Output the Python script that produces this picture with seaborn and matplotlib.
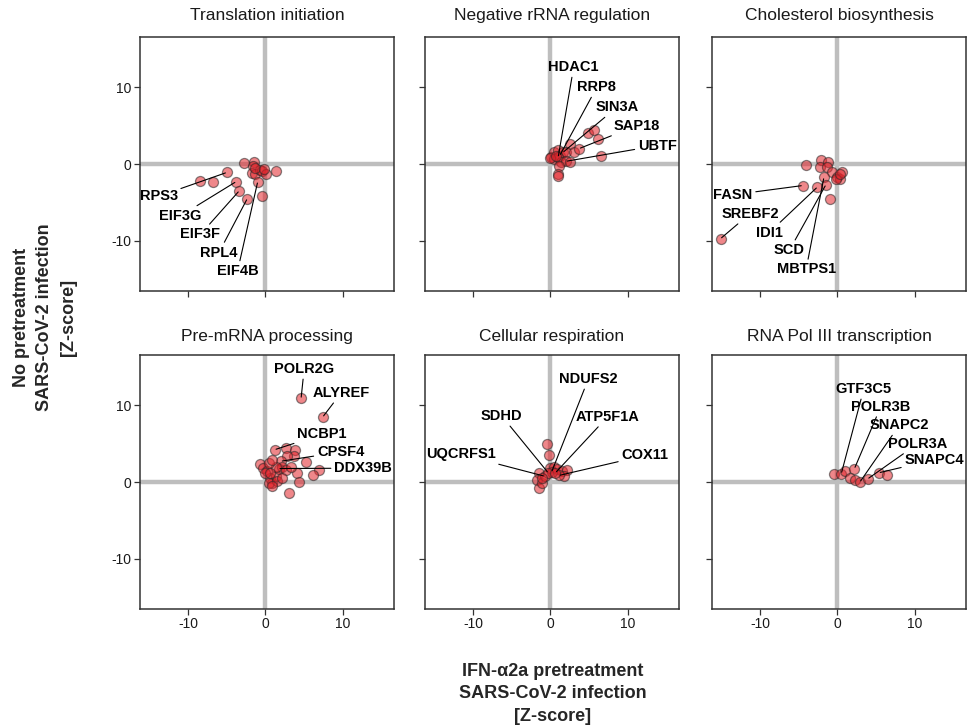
import numpy as np
import pandas as pd
import matplotlib
matplotlib.use("Agg")
import matplotlib.pyplot as plt
import seaborn as sns

sns.set_theme(style="white")
plt.rcParams["font.family"] = ["Liberation Sans", "DejaVu Sans"]
plt.rcParams["axes.unicode_minus"] = False

# ---------------- data ----------------
titles = ["Translation initiation", "Negative rRNA regulation", "Cholesterol biosynthesis",
          "Pre-mRNA processing", "Cellular respiration", "RNA Pol III transcription"]

# Translation initiation
x_trans = [-2.8, -1.5, -1.6, -1.8, -1.4, -0.7, -0.4, 0.1, 1.3, -1.0, -0.4, -5.0, -8.4, -6.75, -3.8, -3.4, -2.35, -1.3, -0.2]
y_trans = [0.1, 0.2, -0.2, -1.2, -1.3, -0.8, -0.9, -1.3, -0.9, -2.3, -4.1, -1.1, -2.2, -2.4, -2.3, -3.5, -4.5, -0.5, -0.6]
g_trans = ["", "", "", "", "", "", "", "", "", "EIF4B", "", "RPS3", "", "", "EIF3G", "EIF3F", "RPL4", "", ""]

# Negative rRNA regulation
x_rrna = [0.1, 0.5, 1.0, 1.2, 1.6, 2.5, 2.0, 3.1, 3.7, 4.8, 5.6, 6.1, 6.5, 0.5, 1.0, 1.4, 2.0, 2.5, 1.1, 1.0, 1.0, -0.1, 0.7]
y_rrna = [0.9, 1.5, 1.8, 1.1, 1.5, 2.6, 1.5, 1.5, 2.0, 4.0, 4.4, 3.2, 1.0, 0.65, 0.9, 0.2, 0.35, 0.2, -0.2, -1.3, -1.5, 0.8, 1.1]
g_rrna = ["", "", "", "RRP8", "SIN3A", "", "", "", "SAP18", "", "", "", "", "", "HDAC1", "", "UBTF", "", "", "", "", "", ""]

# Cholesterol biosynthesis
x_chol = [-4.1, -2.1, -1.2, -2.3, -1.3, -0.65, 0.0, 0.35, 0.6, -0.2, 0.35, -1.75, -1.5, -2.6, -4.5, -0.9, -15.1]
y_chol = [-0.1, 0.5, 0.2, -0.35, -0.45, -1.1, -1.75, -1.95, -1.0, -1.95, -1.3, -1.75, -2.7, -3.0, -2.8, -4.6, -9.7]
g_chol = ["", "", "", "", "", "", "", "", "", "", "", "MBTPS1", "SCD", "IDI1", "FASN", "", "SREBF2"]

# Pre-mRNA processing
x_mrna = [4.6, 7.4, 1.2, 2.6, 3.8, 3.7, 2.8, 2.0, 5.2, 6.9, 6.2, 4.1, 4.3, 3.0, -0.65, -0.35, 0.2, 0.65,
          0.9, 1.3, 1.7, 2.2, 1.3, 0.45, 0.9, 2.6, 3.3, 0.0, 0.65, 0.45, 1.5, 0.8, 2.2]
y_mrna = [10.85, 8.45, 4.2, 4.4, 4.2, 3.35, 3.35, 2.7, 2.6, 1.6, 0.95, 1.2, 0.0, -1.45, 2.3, 1.8, 1.4, 0.5,
          -0.15, 0.75, 1.75, 2.0, 2.0, 2.5, 2.9, 1.6, 2.0, 1.2, 1.2, -0.15, 0.1, -0.55, 0.5]
g_mrna = ["POLR2G", "ALYREF", "NCBP1", "", "", "", "", "CPSF4", "", "", "", "", "", "", "", "", "", "",
          "", "", "DDX39B", "", "", "", "", "", "", "", "", "", "", "", ""]

# Cellular respiration
x_resp = [-0.45, -0.2, -1.5, -1.75, -1.45, -1.1, -0.75, 0.0, 0.45, 0.9, 1.45, 2.2, 1.7, 1.1, 0.15, -0.3, 0.65, -1.1]
y_resp = [4.95, 3.45, 1.2, 0.3, -0.8, -0.1, 0.75, 1.8, 2.0, 1.7, 1.4, 1.6, 0.75, 0.85, 1.3, 1.2, 1.2, 0.5]
g_resp = ["", "", "", "", "", "", "UQCRFS1", "", "", "", "", "", "", "COX11", "NDUFS2", "SDHD", "ATP5F1A", ""]

# RNA Pol III transcription
x_pol3 = [-0.45, 0.5, 1.0, 2.2, 1.65, 2.3, 2.9, 3.9, 5.35, 6.35]
y_pol3 = [1.1, 1.1, 1.4, 1.75, 0.5, 0.3, 0.0, 0.4, 1.2, 0.95]
g_pol3 = ["", "GTF3C5", "", "POLR3B", "", "", "SNAPC2", "POLR3A", "SNAPC4", ""]

# label placements (data units) -- layout only
label_pos = {
    "RPS3": (-13.8, -4.2), "EIF3G": (-11.0, -6.75), "EIF3F": (-8.4, -9.15), "RPL4": (-6.0, -11.5), "EIF4B": (-3.6, -13.9),
    "HDAC1": (3.0, 12.6), "RRP8": (6.0, 10.0), "SIN3A": (8.6, 7.4), "SAP18": (11.2, 5.0), "UBTF": (13.8, 2.4),
    "FASN": (-13.5, -4.0), "SREBF2": (-11.3, -6.45), "IDI1": (-8.8, -8.9), "SCD": (-6.2, -11.2), "MBTPS1": (-4.05, -13.7),
    "POLR2G": (5.0, 14.7), "ALYREF": (9.8, 11.6), "NCBP1": (7.3, 6.2), "CPSF4": (9.7, 3.9), "DDX39B": (12.6, 1.8),
    "NDUFS2": (4.9, 13.4), "SDHD": (-6.3, 8.6), "ATP5F1A": (7.4, 8.5), "UQCRFS1": (-11.6, 3.6), "COX11": (12.2, 3.45),
    "GTF3C5": (3.4, 12.1), "POLR3B": (5.6, 9.8), "SNAPC2": (8.0, 7.4), "POLR3A": (10.4, 5.0), "SNAPC4": (12.5, 2.9),
}

panels = [(x_trans, y_trans, g_trans), (x_rrna, y_rrna, g_rrna), (x_chol, y_chol, g_chol),
          (x_mrna, y_mrna, g_mrna), (x_resp, y_resp, g_resp), (x_pol3, y_pol3, g_pol3)]

frames = []
for t, (xs, ys, gs) in zip(titles, panels):
    frames.append(pd.DataFrame({"x": xs, "y": ys, "gene": gs, "panel": t}))
df = pd.concat(frames, ignore_index=True)

# ---------------- figure ----------------
W, H = 977, 726
fig = plt.figure(figsize=(W / 100, H / 100), dpi=100)

col_left = [140, 425, 712]
row_top = [37, 355]
pw, ph = 254, 254

for i, t in enumerate(titles):
    r, c = divmod(i, 3)
    l = col_left[c]
    top = row_top[r]
    ax = fig.add_axes([l / W, 1 - (top + ph) / H, pw / W, ph / H])
    sub = df[df["panel"] == t]
    ax.axhline(0, color="#BEBEBE", lw=3.2, zorder=0.5)
    ax.axvline(0, color="#BEBEBE", lw=3.2, zorder=0.5)
    sns.scatterplot(data=sub, x="x", y="y", ax=ax, s=52, color=(0.89, 0.14, 0.17), alpha=0.55,
                    edgecolor="#262626", linewidth=0.9, zorder=3, legend=False)
    for _, row in sub[sub["gene"] != ""].iterrows():
        tx, ty = label_pos[row["gene"]]
        ax.annotate(row["gene"], xy=(row["x"], row["y"]), xytext=(tx, ty),
                    textcoords="data", ha="center", va="center", fontsize=10.5,
                    fontweight="bold", color="black", zorder=5, annotation_clip=False,
                    arrowprops=dict(arrowstyle="-", color="black", lw=0.8,
                                    shrinkA=0, shrinkB=1))
    ax.set_xlim(-16.2, 16.6)
    ax.set_ylim(-16.5, 16.5)
    ax.set_xticks([-10, 0, 10])
    ax.set_yticks([-10, 0, 10])
    ax.set_xlabel("")
    ax.set_ylabel("")
    ax.tick_params(axis="both", which="both", direction="out", length=4, width=0.9,
                   color="#333333", labelsize=10, labelcolor="#1a1a1a", pad=2,
                   bottom=True, left=True)
    if c != 0:
        ax.tick_params(axis="y", labelleft=False)
    if r != 1:
        ax.tick_params(axis="x", labelbottom=False)
    for sp in ax.spines.values():
        sp.set_visible(True)
        sp.set_color("#333333")
        sp.set_linewidth(1.1)
    ax.set_title(t, fontsize=12.5, color="#1a1a1a", pad=12 if r == 0 else 10)

fig.text(553 / W, 1 - 694 / H, "IFN-\u03b12a pretreatment\nSARS-CoV-2 infection\n[Z-score]",
         ha="center", va="center", fontsize=13, fontweight="bold", linespacing=1.42)
fig.text(45 / W, 1 - 317 / H, "No pretreatment\nSARS-CoV-2 infection\n[Z-score]",
         ha="center", va="center", rotation=90, fontsize=13, fontweight="bold", linespacing=1.5)

fig.savefig("out.png", dpi=100)
